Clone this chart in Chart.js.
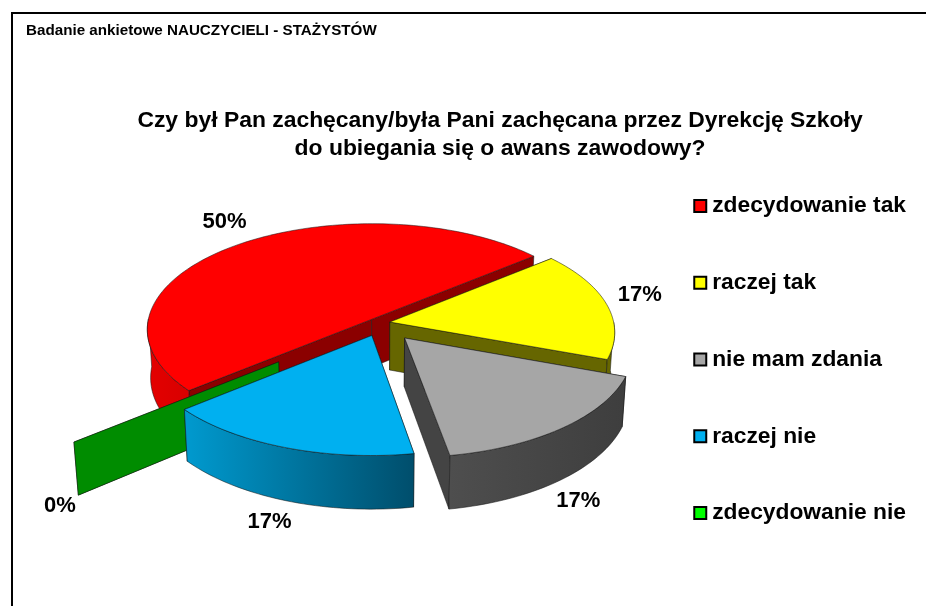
<!DOCTYPE html>
<html><head><meta charset="utf-8">
<script src="https://cdn.jsdelivr.net/npm/chart.js@4"></script>
<style>
html,body{margin:0;padding:0;background:#fff;overflow:hidden}
#wrap{position:relative;width:926px;height:606px}
#frame{position:absolute;left:11px;top:12px;right:0;bottom:-4px;border-left:2px solid #000;border-top:2px solid #000}
canvas{position:absolute;left:0;top:0}
</style></head><body>
<div id="wrap"><div id="frame"></div><canvas id="c" width="926" height="606"></canvas></div>
<script>
const headerText = 'Badanie ankietowe NAUCZYCIELI - STAŻYSTÓW';
const titleLines = ['Czy był Pan zachęcany/była Pani zachęcana przez Dyrekcję Szkoły', 'do ubiegania się o awans zawodowy?'];
const categories = ['zdecydowanie tak', 'raczej tak', 'nie mam zdania', 'raczej nie', 'zdecydowanie nie'];
const shares = [50, 16.67, 16.67, 16.67, 0];
const topColors = ['#FF0000', '#FFFF00', '#A6A6A6', '#00B0F0', '#00FF00'];
const sideColors = ['#8B0000', '#666600', '#444444', '#0090C4', '#008C00'];
const rimColors = [['#E40000', '#D80000'], ['#666600', '#666600'], ['#4E4E4E', '#3E3E3E'], ['#009ACF', '#004E6C'], ['#008C00', '#008C00']];
const explodeDir = [0, 0, 0, -7, 0];
const explode = [10, 12, 41, 27, 125];
const radii = [224, 224, 224, 226, 233];
const labelNudges = [[-14, -22], [33, -9], [15, 73], [-15, 75], [-14, 64]];

const VIEW = {x: 378, y: 323, tilt: 0.47, far: 2400, depth: 48, converge: 0.0003};
function project(u, v, z) {
  const s = VIEW.far / (VIEW.far - v);
  return {x: VIEW.x + u * s * (1 - z * VIEW.converge), y: VIEW.y + (VIEW.tilt * v + z) * s};
}
function slicePoint(g, a, r) {
  return [g.ox + r * Math.cos(a), g.oy + r * Math.sin(a)];
}
function geometry(arc, i) {
  const p = arc.getProps(['startAngle', 'endAngle']);
  const mid = (p.startAngle + p.endAngle) / 2;
  const dir = mid + explodeDir[i] * Math.PI / 180;
  const d = explode[i];
  return {start: p.startAngle, end: p.endAngle, mid, r: radii[i], ox: d * Math.cos(dir), oy: d * Math.sin(dir)};
}
function polygon(ctx, pts, fill) {
  ctx.beginPath();
  pts.forEach((p, i) => i ? ctx.lineTo(p.x, p.y) : ctx.moveTo(p.x, p.y));
  ctx.closePath();
  ctx.fillStyle = fill;
  ctx.fill();
  ctx.lineWidth = 0.7;
  ctx.strokeStyle = 'rgba(20,20,20,0.75)';
  ctx.stroke();
}
function drawSlice(ctx, arc, i) {
  const g = geometry(arc, i);
  const N = Math.max(2, Math.ceil((g.end - g.start) * 40));
  const rim = [];
  for (let k = 0; k <= N; k++) {
    rim.push(slicePoint(g, g.start + (g.end - g.start) * k / N, g.r));
  }
  const a0 = project(g.ox, g.oy, 0), a1 = project(g.ox, g.oy, VIEW.depth);
  const first = rim[0], last = rim[N];
  // radial walls
  polygon(ctx, [a0, project(first[0], first[1], 0), project(first[0], first[1], VIEW.depth), a1], sideColors[i]);
  polygon(ctx, [a0, project(last[0], last[1], 0), project(last[0], last[1], VIEW.depth), a1], sideColors[i]);
  if (g.end - g.start < 1e-6) return;
  // outer wall: only the part that faces the viewer
  const front = rim.filter(q => q[1] - g.oy > -1);
  if (front.length > 1) {
    const tops = front.map(q => project(q[0], q[1], 0));
    const bots = front.map(q => project(q[0], q[1], VIEW.depth)).reverse();
    const xs = tops.map(t => t.x);
    const grad = ctx.createLinearGradient(Math.min(...xs), 0, Math.max(...xs), 0);
    grad.addColorStop(0, rimColors[i][0]);
    grad.addColorStop(1, rimColors[i][1]);
    polygon(ctx, tops.concat(bots), grad);
  }
  // top face
  polygon(ctx, [a0].concat(rim.map(q => project(q[0], q[1], 0))), topColors[i]);
}

const pie3d = {
  id: 'pie3d',
  beforeDatasetDraw(chart, args) {
    const ctx = chart.ctx;
    const arcs = args.meta.data;
    ctx.save();
    ctx.lineJoin = 'round';
    [0, 4, 1, 3, 2].forEach(i => drawSlice(ctx, arcs[i], i));
    ctx.fillStyle = '#000';
    ctx.font = 'bold 22px "Liberation Sans", Arial, sans-serif';
    ctx.textAlign = 'center';
    ctx.textBaseline = 'middle';
    arcs.forEach((arc, i) => {
      const g = geometry(arc, i);
      const q = slicePoint(g, g.mid, g.r);
      const p = project(q[0], q[1], 0);
      ctx.fillText(Math.round(shares[i]) + '%', p.x + labelNudges[i][0], p.y + labelNudges[i][1]);
    });
    ctx.restore();
    return false;
  },
  afterDraw(chart) {
    const ctx = chart.ctx;
    ctx.save();
    ctx.fillStyle = '#000';
    ctx.font = 'bold 15.2px "Liberation Sans", Arial, sans-serif';
    ctx.textAlign = 'left';
    ctx.textBaseline = 'middle';
    ctx.fillText(headerText, 26, 31);
    ctx.restore();
  }
};

new Chart(document.getElementById('c'), {
  type: 'pie',
  data: {
    labels: categories,
    datasets: [{
      data: shares,
      backgroundColor: topColors,
      borderColor: '#000',
      borderWidth: 2
    }]
  },
  options: {
    responsive: false,
    animation: false,
    rotation: 230.2,
    layout: {padding: {left: 84, right: 10, top: 107, bottom: -6}},
    plugins: {
      tooltip: {enabled: false},
      title: {
        display: true,
        text: titleLines,
        color: '#000',
        font: {family: '"Liberation Sans", Arial, sans-serif', size: 22.9, weight: 'bold', lineHeight: 1.2},
        padding: {top: 0, bottom: 0}
      },
      legend: {
        position: 'right',
        labels: {
          color: '#000',
          font: {family: '"Liberation Sans", Arial, sans-serif', size: 22.8, weight: 'bold'},
          usePointStyle: true,
          pointStyle: 'rect',
          boxWidth: 1,
          boxHeight: 12,
          padding: 54
        }
      }
    }
  },
  plugins: [pie3d]
});
</script>
</body></html>
